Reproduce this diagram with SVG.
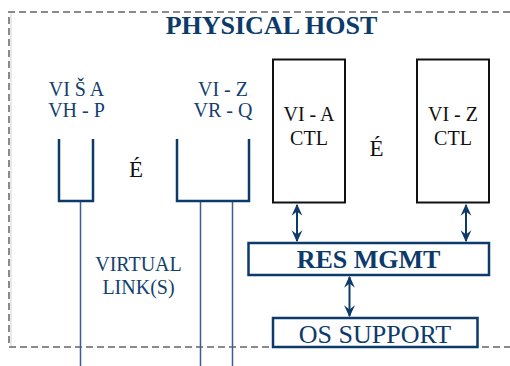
<svg xmlns="http://www.w3.org/2000/svg" width="510" height="366" viewBox="0 0 510 366">
  <style>
    .frame { fill: none; stroke: #8a8a8a; stroke-width: 2; stroke-dasharray: 7 4; }
    text { font-family: "Liberation Serif", "Times New Roman", Times, serif; }
    .title { font-weight: bold; font-size: 26px; fill: #0b3a6b; }
    .lbl { font-size: 20px; fill: #123f70; }
    .big { font-size: 26px; fill: #0b3a6b; }
    .blk { font-size: 20px; fill: #111111; }
    .dots { font-size: 23px; fill: #111111; }
    .queue { fill: none; stroke: #0b3a6b; stroke-width: 2.5; }
    .link { fill: none; stroke: #3a5f8c; stroke-width: 1.5; }
    .ctl { fill: #ffffff; stroke: #111111; stroke-width: 2; }
    .mgmt { fill: #ffffff; stroke: #0b3a6b; stroke-width: 2.5; }
    .conn { fill: none; stroke: #0b3a6b; stroke-width: 2; }
  </style>
  <defs>
    <marker id="head" viewBox="0 0 10 10" refX="9" refY="5" markerWidth="6" markerHeight="6" markerUnits="strokeWidth" orient="auto-start-reverse">
      <path d="M0,0.5 L10,5 L0,9.5 L3.5,5 Z" fill="#0b3a6b"/>
    </marker>
  </defs>

  <rect width="510" height="366" fill="#ffffff"/>

  <!-- host boundary -->
  <g id="host">
    <line x1="11" y1="13" x2="11" y2="346" stroke="#e2e2e2" stroke-width="1.5"/>
    <path class="frame" d="M510,12 H9 V347 H510"/>
    <text class="title" x="271.5" y="34" text-anchor="middle">PHYSICAL HOST</text>
  </g>

  <!-- virtual link lines running out of the host -->
  <g id="links">
    <line class="link" x1="80.5" y1="201" x2="80.5" y2="366"/>
    <line class="link" x1="200.5" y1="201" x2="200.5" y2="366"/>
    <line class="link" x1="232.5" y1="201" x2="232.5" y2="366"/>
    <text class="lbl" x="138.5" y="271" text-anchor="middle">VIRTUAL</text>
    <text class="lbl" x="138.5" y="294" text-anchor="middle">LINK(S)</text>
  </g>

  <!-- queue for VI A / VH P -->
  <g id="queue-a">
    <text class="lbl" x="76.5" y="96" text-anchor="middle">VI Š A</text>
    <text class="lbl" x="76.5" y="117" text-anchor="middle">VH - P</text>
    <path class="queue" d="M59,139 V201 H93 V139"/>
  </g>

  <text class="dots" x="136" y="177" text-anchor="middle">É</text>

  <!-- queue for VI Z / VR Q -->
  <g id="queue-z">
    <text class="lbl" x="223" y="96" text-anchor="middle">VI - Z</text>
    <text class="lbl" x="223" y="117" text-anchor="middle">VR - Q</text>
    <path class="queue" d="M177,139 V201 H249 V139"/>
  </g>

  <!-- controller blocks -->
  <g id="ctl-a">
    <rect class="ctl" x="273" y="59.5" width="72" height="143"/>
    <text class="blk" x="309" y="121" text-anchor="middle">VI - A</text>
    <text class="blk" x="309" y="145" text-anchor="middle">CTL</text>
  </g>

  <text class="dots" x="376.5" y="156" text-anchor="middle">É</text>

  <g id="ctl-z">
    <rect class="ctl" x="417" y="59.5" width="72" height="143"/>
    <text class="blk" x="453" y="121" text-anchor="middle">VI - Z</text>
    <text class="blk" x="453" y="145" text-anchor="middle">CTL</text>
  </g>

  <g id="res-mgmt">
    <rect class="mgmt" x="248.5" y="243" width="240.5" height="32"/>
    <text class="title" x="368.5" y="268" text-anchor="middle">RES MGMT</text>
  </g>

  <g id="os-support">
    <rect class="mgmt" x="273" y="318" width="204.5" height="29"/>
    <text class="big" x="375" y="343" text-anchor="middle">OS SUPPORT</text>
  </g>

  <!-- two-way connectors -->
  <g id="connectors">
    <line class="conn" x1="297" y1="205" x2="297" y2="241" marker-start="url(#head)" marker-end="url(#head)"/>
    <line class="conn" x1="466" y1="205" x2="466" y2="241" marker-start="url(#head)" marker-end="url(#head)"/>
    <line class="conn" x1="349.5" y1="277" x2="349.5" y2="316" marker-start="url(#head)" marker-end="url(#head)"/>
  </g>
</svg>
